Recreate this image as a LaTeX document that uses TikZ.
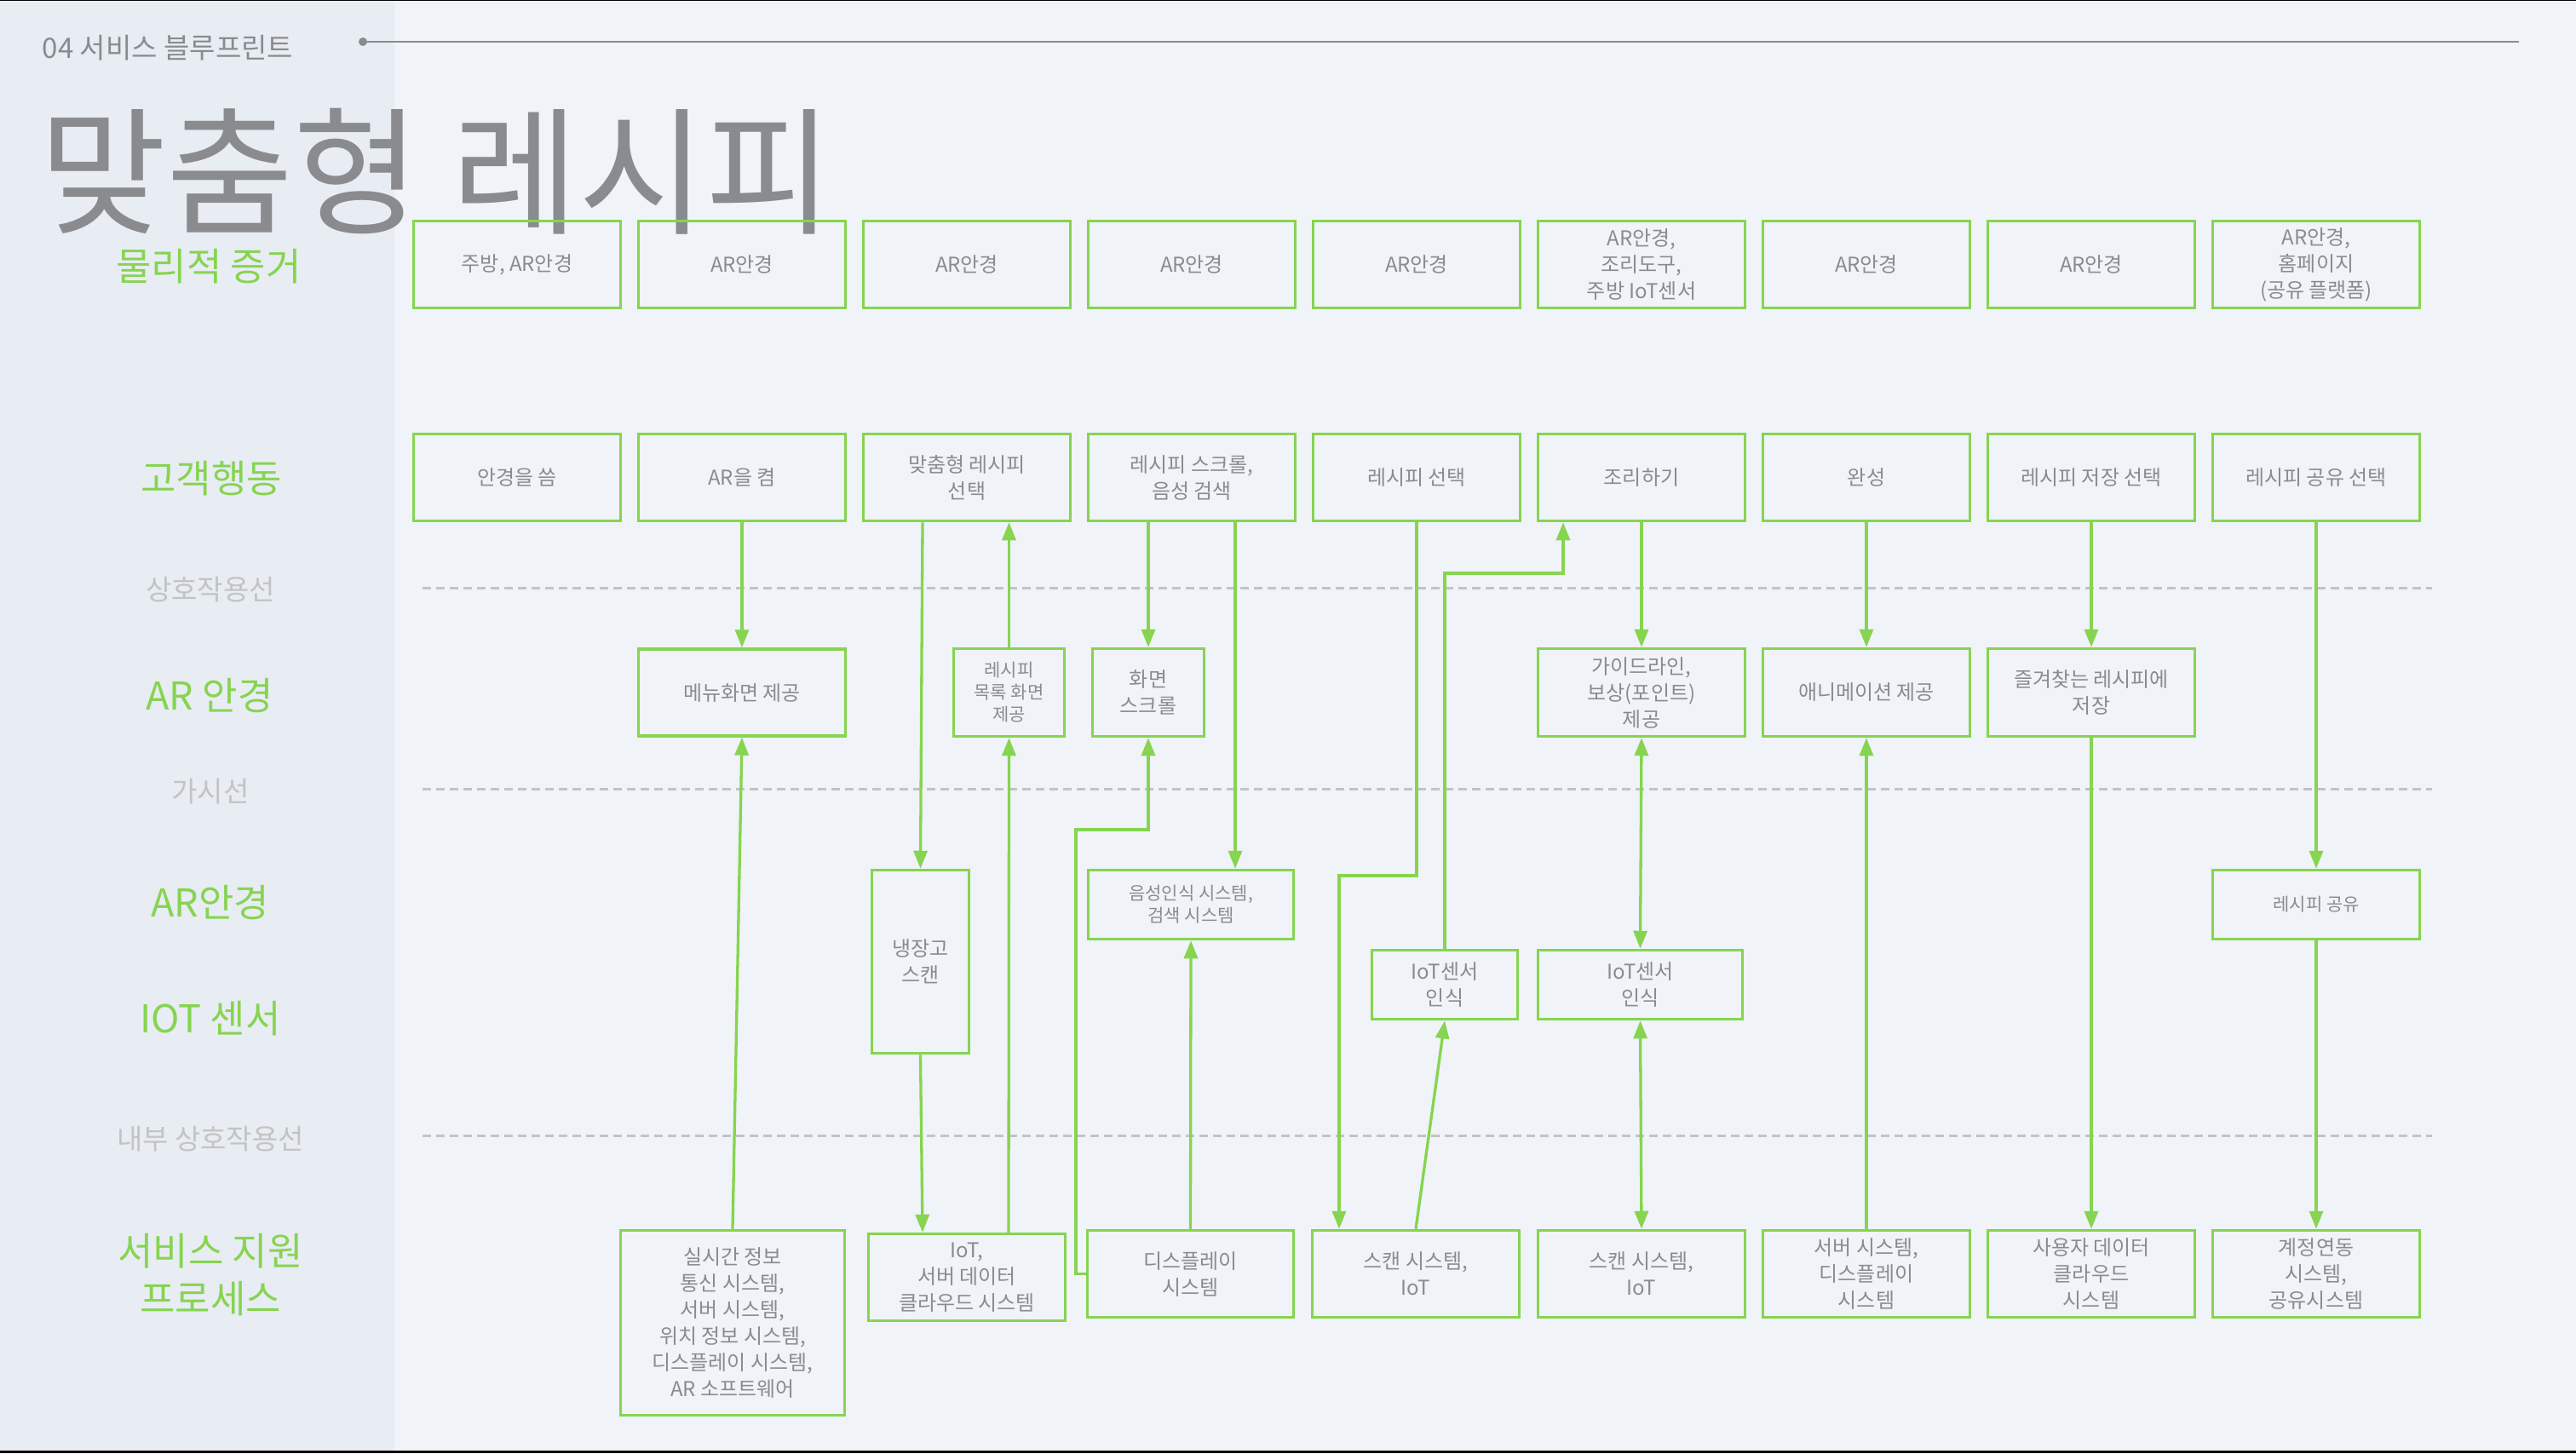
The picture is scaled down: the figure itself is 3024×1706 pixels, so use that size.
\documentclass[tikz,border=0pt]{standalone}
\usepackage{fontspec}
\setmainfont{Noto Sans CJK KR}
\usetikzlibrary{arrows.meta}
\definecolor{bgmain}{HTML}{F0F3F8}
\definecolor{bgleft}{HTML}{E8ECF3}
\definecolor{grn}{HTML}{86D450}
\definecolor{txtgray}{HTML}{8A8B8F}
\definecolor{lightgray}{HTML}{C3C3C3}
\begin{document}
\begin{tikzpicture}[x=1pt,y=-1pt,
 box/.style={draw=grn, line width=3.5pt, minimum width=243pt, minimum height=102pt, inner sep=0pt, align=center, text=txtgray, font=\fontsize{24}{31}\selectfont},
 smallbox/.style={box, font=\fontsize{21}{26}\selectfont},
 arr/.style={draw=grn, line width=3.3pt, -{Triangle[length=21pt,width=16pt]}},
 darr/.style={draw=grn, line width=3.3pt, {Triangle[length=21pt,width=16pt]}-{Triangle[length=21pt,width=16pt]}},
 lane/.style={text=grn, font=\fontsize{45}{56}\selectfont, align=center, inner sep=0pt},
 sepl/.style={text=lightgray, font=\fontsize{33}{36}\selectfont, inner sep=0pt},
 dline/.style={draw=lightgray, line width=3pt, dash pattern=on 10pt off 6pt}
]
\useasboundingbox (0,0) rectangle (3024,1706);
% backgrounds
\fill[bgmain] (0,0) rectangle (3024,1706);
\fill[bgleft] (0,0) rectangle (463,1706);
\fill[black] (0,0) rectangle (3024,1);
\fill[black] (0,1703) rectangle (3024,1706);

% header
\node[text=txtgray, font=\fontsize{33}{36}\selectfont, inner sep=0pt] (hdr) at (197,56) {04 서비스 블루프린트};
\fill[txtgray] (426,49) circle (5);
\draw[txtgray, line width=2.5pt] (426,49) -- (2957,49);

% title
\node[text=txtgray, font=\fontsize{162}{166}\selectfont, inner sep=0pt] (title) at (512,201) {맞춤형 레시피};

% dashed separator lines
\draw[dline] (496,690) -- (2855,690);
\draw[dline] (496,926) -- (2855,926);
\draw[dline] (496,1333) -- (2855,1333);

% lane labels
\node[lane] (l1) at (245,313) {물리적 증거};
\node[lane] (l2) at (248,562) {고객행동};
\node[sepl] (l3) at (247,692) {상호작용선};
\node[lane] (l4) at (246,817) {AR 안경};
\node[sepl] (l5) at (247,929) {가시선};
\node[lane] (l6) at (247,1060) {AR안경};
\node[lane] (l7) at (247,1196) {IOT 센서};
\node[sepl] (l8) at (247,1337) {내부 상호작용선};
\node[lane] (l9) at (247,1497) {서비스 지원\\프로세스};

% row 1: physical evidence
\node[box] (p1) at (607,310.5) {주방, AR안경};
\node[box] (p2) at (871,310.5) {AR안경};
\node[box] (p3) at (1135,310.5) {AR안경};
\node[box] (p4) at (1399,310.5) {AR안경};
\node[box] (p5) at (1663,310.5) {AR안경};
\node[box] (p6) at (1927,310.5) {AR안경,\\조리도구,\\주방 IoT센서};
\node[box] (p7) at (2191,310.5) {AR안경};
\node[box] (p8) at (2455,310.5) {AR안경};
\node[box] (p9) at (2719,310.5) {AR안경,\\홈페이지\\(공유 플랫폼)};

% row 2: customer actions
\node[box] (a1) at (607,560.5) {안경을 씀};
\node[box] (a2) at (871,560.5) {AR을 켬};
\node[box] (a3) at (1135,560.5) {맞춤형 레시피\\선택};
\node[box] (a4) at (1399,560.5) {레시피 스크롤,\\음성 검색};
\node[box] (a5) at (1663,560.5) {레시피 선택};
\node[box] (a6) at (1927,560.5) {조리하기};
\node[box] (a7) at (2191,560.5) {완성};
\node[box] (a8) at (2455,560.5) {레시피 저장 선택};
\node[box] (a9) at (2719,560.5) {레시피 공유 선택};

% row 3: AR glasses (front stage)
\node[box] (menu) at (871,813) {메뉴화면 제공};
\node[smallbox, minimum width=130pt, minimum height=103pt] (rlist) at (1184.5,813) {레시피\\목록 화면\\제공};
\node[box, minimum width=131pt, minimum height=103pt] (scroll) at (1348,813) {화면\\스크롤};
\node[box, minimum height=103pt] (guide) at (1927,813) {가이드라인,\\보상(포인트)\\제공};
\node[box, minimum height=103pt] (anim) at (2191,813) {애니메이션 제공};
\node[box, minimum height=103pt] (fav) at (2455,813) {즐겨찾는 레시피에\\저장};

% row 4: AR glasses / IoT sensor (back stage)
\node[box, minimum width=114pt, minimum height=215pt] (fridge) at (1080.5,1129) {냉장고\\스캔};
\node[smallbox, minimum width=241pt, minimum height=81pt] (voice) at (1398,1062) {음성인식 시스템,\\검색 시스템};
\node[smallbox, minimum height=81pt] (share) at (2719,1062) {레시피 공유};
\node[box, minimum width=171pt, minimum height=81pt] (iot1) at (1696,1156) {IoT센서\\인식};
\node[box, minimum width=240pt, minimum height=81pt] (iot2) at (1925.5,1156) {IoT센서\\인식};

% row 5: support processes
\node[box, minimum width=263pt, minimum height=217pt] (s1) at (860,1553) {실시간 정보\\통신 시스템,\\서버 시스템,\\위치 정보 시스템,\\디스플레이 시스템,\\AR 소프트웨어};
\node[box, minimum width=231pt] (s2) at (1135,1499.5) {IoT,\\서버 데이터\\클라우드 시스템};
\node[box, minimum width=242pt] (s3) at (1397.5,1495.5) {디스플레이\\시스템};
\node[box] (s4) at (1662,1495.5) {스캔 시스템,\\IoT};
\node[box] (s5) at (1927,1495.5) {스캔 시스템,\\IoT};
\node[box] (s6) at (2191,1495.5) {서버 시스템,\\디스플레이\\시스템};
\node[box] (s7) at (2455,1495.5) {사용자 데이터\\클라우드\\시스템};
\node[box] (s8) at (2719,1495.5) {계정연동\\시스템,\\공유시스템};

% bend points
\coordinate (k1) at (1263,974);
\coordinate (k2) at (1572,1028);
\coordinate (k3) at (1835,673);

% connectors
\draw[arr] (a2.south) -- (menu.north);
\draw[arr] (s1.north) -- (menu.south);
\draw[arr] ([xshift=-52pt]a3.south) -- (fridge.north);
\draw[arr] (fridge.south) -- ([xshift=-52pt]s2.north);
\draw[arr] ([xshift=49pt]s2.north) -- (rlist.south);
\draw[arr] (rlist.north) -- ([xshift=49.5pt]a3.south);
\draw[arr] ([xshift=-51pt]a4.south) -- (scroll.north);
\draw[arr] ([xshift=51pt]a4.south) -- ([xshift=52pt]voice.north);
\draw[arr] (s3.west) -| (k1) -| (scroll.south);
\draw[arr] (s3.north) -- (voice.south);
\draw[arr] (a5.south) |- (k2) -- ([xshift=-90pt]s4.north);
\draw[arr] (s4.north) -- (iot1.south);
\draw[arr] (iot1.north) |- (k3) -- ([xshift=-92pt]a6.south);
\draw[arr] (a6.south) -- (guide.north);
\draw[darr] (guide.south) -- (iot2.north);
\draw[darr] (iot2.south) -- (s5.north);
\draw[arr] (a7.south) -- (anim.north);
\draw[arr] (s6.north) -- (anim.south);
\draw[arr] (a8.south) -- (fav.north);
\draw[arr] (fav.south) -- (s7.north);
\draw[arr] (a9.south) -- (share.north);
\draw[arr] (share.south) -- (s8.north);
\end{tikzpicture}
\end{document}
